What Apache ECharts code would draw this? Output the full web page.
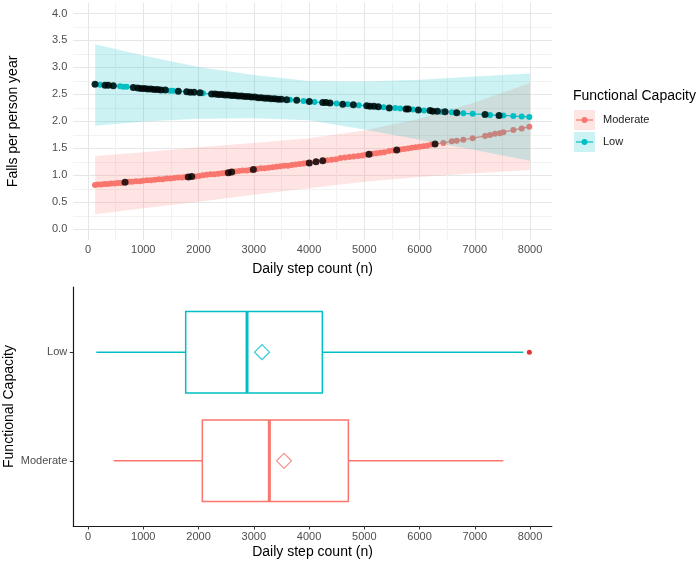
<!DOCTYPE html>
<html>
<head>
<meta charset="utf-8">
<title>Falls per person year by daily step count</title>
<script src="https://cdn.jsdelivr.net/npm/echarts@6/dist/echarts.min.js"></script>
<style>
  html, body { margin: 0; padding: 0; background: #fff; }
  #chart { width: 700px; height: 561px; }
</style>
</head>
<body>
<div id="chart"></div>
<script>
// ---- data ----
var groups = ["Moderate", "Low"];

// axis ticks
var xTicks = [0, 1000, 2000, 3000, 4000, 5000, 6000, 7000, 8000];
var xMinor = [500, 1500, 2500, 3500, 4500, 5500, 6500, 7500];
var yTicks = [0, 0.5, 1, 1.5, 2, 2.5, 3, 3.5, 4];
var yMinor = [0.25, 0.75, 1.25, 1.75, 2.25, 2.75, 3.25, 3.75];

// fitted falls per person year, Low functional capacity (one dot per person)
var lowX = [127, 217, 308, 368, 458, 580, 640, 700, 820, 900, 960, 1020, 1080, 1140, 1200, 1260, 1320, 1400, 1484, 1540,
  1634, 1786, 1850, 1920, 2027, 2080, 2237, 2300, 2360, 2420, 2480, 2540, 2600, 2660, 2720, 2780, 2840, 2900, 2960, 3020,
  3080, 3140, 3200, 3260, 3320, 3380, 3440, 3500, 3595, 3656, 3777, 3900, 4005, 4100, 4248, 4308, 4380, 4500, 4610, 4700,
  4802, 4900, 5044, 5104, 5177, 5254, 5350, 5453, 5560, 5650, 5756, 5797, 5880, 5978, 6080, 6190, 6239, 6322, 6400, 6462,
  6583, 6673, 6793, 6962, 7186, 7276, 7439, 7517, 7698, 7849, 7987];
var lowY = [2.69, 2.68, 2.67, 2.67, 2.66, 2.65, 2.64, 2.64, 2.63, 2.62, 2.61, 2.61, 2.60, 2.60, 2.59, 2.59, 2.58, 2.58, 2.57, 2.57,
  2.56, 2.55, 2.54, 2.54, 2.53, 2.52, 2.51, 2.51, 2.50, 2.50, 2.49, 2.49, 2.48, 2.48, 2.47, 2.47, 2.46, 2.46, 2.45, 2.45,
  2.44, 2.44, 2.43, 2.43, 2.42, 2.42, 2.41, 2.41, 2.40, 2.40, 2.39, 2.38, 2.37, 2.36, 2.35, 2.35, 2.34, 2.33, 2.32, 2.32,
  2.31, 2.30, 2.29, 2.28, 2.28, 2.27, 2.26, 2.25, 2.25, 2.24, 2.23, 2.23, 2.22, 2.21, 2.20, 2.20, 2.19, 2.19, 2.18, 2.18,
  2.17, 2.16, 2.15, 2.14, 2.13, 2.12, 2.11, 2.11, 2.10, 2.09, 2.08];

// black dots on the Low line
var lowBlackX = [127, 308, 368, 458, 820, 900, 960, 1020, 1080, 1140, 1200, 1260, 1320, 1400, 1634, 1786, 1850, 1920, 2027, 2237,
  2300, 2360, 2420, 2480, 2540, 2600, 2660, 2720, 2780, 2840, 2900, 2960, 3020, 3080, 3140, 3200, 3260, 3320, 3380, 3440,
  3500, 3595, 3777, 4005, 4248, 4308, 4380, 4610, 4802, 5044, 5104, 5177, 5254, 5453, 5756, 5797, 5978, 6190, 6239, 6322,
  6462, 6673, 7186, 7439];
var lowBlackY = [2.69, 2.67, 2.67, 2.66, 2.63, 2.62, 2.61, 2.61, 2.60, 2.60, 2.59, 2.59, 2.58, 2.58, 2.56, 2.55, 2.54, 2.54, 2.53, 2.51,
  2.51, 2.50, 2.50, 2.49, 2.49, 2.48, 2.48, 2.47, 2.47, 2.46, 2.46, 2.45, 2.45, 2.44, 2.44, 2.43, 2.43, 2.42, 2.42, 2.41,
  2.41, 2.40, 2.39, 2.37, 2.35, 2.35, 2.34, 2.32, 2.31, 2.29, 2.28, 2.28, 2.27, 2.25, 2.23, 2.23, 2.21, 2.20, 2.19, 2.19,
  2.18, 2.16, 2.13, 2.11];

// fitted falls per person year, Moderate functional capacity
var modX = [127, 180, 240, 300, 360, 420, 480, 540, 600, 670, 740, 800, 870, 940, 1000, 1070, 1140, 1210, 1280, 1350,
  1420, 1490, 1560, 1630, 1700, 1760, 1815, 1877, 1940, 2010, 2080, 2150, 2220, 2290, 2360, 2430, 2490, 2540, 2600, 2660,
  2730, 2800, 2870, 2930, 2993, 3060, 3130, 3200, 3270, 3340, 3410, 3480, 3550, 3620, 3690, 3760, 3830, 3900, 3960, 4005,
  4127, 4248, 4330, 4410, 4490, 4570, 4650, 4730, 4810, 4890, 4960, 5020, 5086, 5150, 5220, 5290, 5360, 5448, 5520, 5587,
  5650, 5720, 5790, 5860, 5930, 6000, 6070, 6140, 6210, 6281, 6431, 6583, 6673, 6793, 6962, 7186, 7276, 7367, 7457, 7517,
  7698, 7849, 7987];
var modY = [0.82, 0.83, 0.83, 0.84, 0.84, 0.85, 0.85, 0.86, 0.86, 0.87, 0.88, 0.88, 0.89, 0.89, 0.90, 0.91, 0.91, 0.92, 0.93, 0.93,
  0.94, 0.94, 0.95, 0.96, 0.96, 0.97, 0.97, 0.98, 0.98, 0.99, 1.00, 1.01, 1.02, 1.02, 1.03, 1.04, 1.05, 1.05, 1.06, 1.07,
  1.08, 1.09, 1.09, 1.10, 1.11, 1.12, 1.13, 1.13, 1.14, 1.15, 1.16, 1.17, 1.18, 1.18, 1.19, 1.20, 1.21, 1.22, 1.23, 1.23,
  1.25, 1.27, 1.28, 1.29, 1.30, 1.32, 1.33, 1.34, 1.35, 1.36, 1.37, 1.38, 1.39, 1.40, 1.41, 1.42, 1.43, 1.45, 1.46, 1.47,
  1.48, 1.49, 1.50, 1.51, 1.52, 1.53, 1.54, 1.55, 1.57, 1.58, 1.60, 1.63, 1.64, 1.66, 1.69, 1.73, 1.75, 1.77, 1.78, 1.80,
  1.84, 1.87, 1.90];

// black dots on the Moderate line
var modBlackX = [670, 1815, 1877, 2540, 2600, 2993, 4005, 4127, 4248, 5086, 5587, 6281];
var modBlackY = [0.87, 0.97, 0.98, 1.05, 1.06, 1.11, 1.23, 1.25, 1.27, 1.39, 1.47, 1.58];

// confidence bands
var bandX = [130, 1000, 2000, 3000, 4000, 5000, 6000, 7000, 8000];
var lowLo = [1.92, 2.00, 2.05, 2.06, 2.02, 1.85, 1.66, 1.47, 1.27];
var lowHi = [3.43, 3.22, 3.01, 2.86, 2.75, 2.74, 2.77, 2.83, 2.89];
var modLo = [0.28, 0.39, 0.51, 0.64, 0.76, 0.88, 0.97, 1.04, 1.10];
var modHi = [1.36, 1.43, 1.52, 1.60, 1.69, 1.83, 2.05, 2.35, 2.71];

// boxplots: [min whisker, Q1, median, Q3, max whisker]
var boxMod = [465, 2069, 3282, 4712, 7517];
var boxLow = [150, 1768, 2878, 4241, 7880];
var meanSteps = [3548, 3149]; // Moderate, Low
var lowOutliers = [7988];

// ---- chart ----
var colors = { Moderate: "#F8766D", Low: "#00BFC4" };
var font = "Liberation Sans, Arial, sans-serif";
var xMin = -267, xMax = 8394;

function zip(a, b) {
  return a.map(function (v, i) { return [v, b[i]]; });
}

function ribbon(xs, lo, hi, color, z) {
  return {
    type: "custom", xAxisIndex: 0, yAxisIndex: 0, z: z, silent: true,
    data: xs.map(function (x, i) { return [x, lo[i], hi[i]]; }),
    encode: { x: 0, y: [1, 2] },
    renderItem: function (params, api) {
      if (params.dataIndex !== 0) return null;
      var pts = [];
      for (var i = 0; i < xs.length; i++) pts.push(api.coord([xs[i], hi[i]]));
      for (var j = xs.length - 1; j >= 0; j--) pts.push(api.coord([xs[j], lo[j]]));
      return { type: "polygon", shape: { points: pts }, style: { fill: color, opacity: 0.2 } };
    }
  };
}

function fitLine(xs, ys, color, z) {
  return {
    type: "line", xAxisIndex: 0, yAxisIndex: 0, z: z, silent: true,
    data: zip(xs, ys),
    symbol: "circle", symbolSize: 6, showAllSymbol: true,
    lineStyle: { color: color, width: 1.2 },
    itemStyle: { color: color }
  };
}

function blackDots(xs, ys) {
  return {
    type: "scatter", xAxisIndex: 0, yAxisIndex: 0, z: 6, silent: true,
    data: zip(xs, ys), symbol: "circle", symbolSize: 7,
    itemStyle: { color: "#000" }
  };
}

function box(pos, b, color) {
  return {
    type: "custom", xAxisIndex: 2, yAxisIndex: 2, silent: true,
    data: [[pos].concat(b)],
    encode: { y: 0, x: [1, 2, 3, 4, 5] },
    renderItem: function (params, api) {
      var y = api.value(0);
      var h = api.size([0, 0.75])[1];
      var p0 = api.coord([api.value(1), y]);
      var p1 = api.coord([api.value(2), y]);
      var p2 = api.coord([api.value(3), y]);
      var p3 = api.coord([api.value(4), y]);
      var p4 = api.coord([api.value(5), y]);
      var ln = { stroke: color, lineWidth: 1.5 };
      return {
        type: "group",
        children: [
          { type: "line", shape: { x1: p0[0], y1: p0[1], x2: p1[0], y2: p1[1] }, style: ln },
          { type: "line", shape: { x1: p3[0], y1: p3[1], x2: p4[0], y2: p4[1] }, style: ln },
          { type: "rect", shape: { x: p1[0], y: p1[1] - h / 2, width: p3[0] - p1[0], height: h },
            style: { fill: "#fff", stroke: color, lineWidth: 1.5 } },
          { type: "line", shape: { x1: p2[0], y1: p2[1] - h / 2, x2: p2[0], y2: p2[1] + h / 2 },
            style: { stroke: color, lineWidth: 3 } }
        ]
      };
    }
  };
}

// legend key (ggplot style: filled square + line + dot)
function legendKey(y, name) {
  var c = colors[name];
  return [
    { type: "rect", shape: { x: 574, y: y - 10, width: 21, height: 20 }, style: { fill: c, opacity: 0.2 } },
    { type: "line", shape: { x1: 576, y1: y, x2: 593, y2: y }, style: { stroke: c, lineWidth: 1.2 } },
    { type: "circle", shape: { cx: 584.5, cy: y, r: 3 }, style: { fill: c } },
    { type: "text", x: 603, y: y, style: { text: name, font: "11px " + font, fill: "#1a1a1a", verticalAlign: "middle" } }
  ];
}

var plain = function (v) { return String(v); };
var tickLabel = { color: "#4d4d4d", fontSize: 11, fontFamily: font };
var axisName = { color: "#000", fontSize: 14, fontFamily: font };
var major = { show: true, lineStyle: { color: "#e6e6e6", width: 1 } };
var minor = { show: true, lineStyle: { color: "#f2f2f2", width: 1 } };

var myChart = echarts.init(document.getElementById("chart"));
var option = {
  animation: false,
  textStyle: { fontFamily: font },
  grid: [
    { left: 73.25, right: 148.2, top: 2.7, height: 237.4, containLabel: false, outerBoundsMode: "none" },
    { left: 73.25, right: 148.2, top: 287, height: 239, containLabel: false, outerBoundsMode: "none" }
  ],
  xAxis: [
    {
      type: "value", gridIndex: 0, min: xMin, max: xMax,
      axisLine: { show: false, onZero: false }, axisTick: { show: false, customValues: xTicks },
      axisLabel: Object.assign({ customValues: xTicks, margin: 4, formatter: plain }, tickLabel),
      splitLine: major,
      name: "Daily step count (n)", nameLocation: "middle", nameGap: 22, nameTextStyle: axisName
    },
    {
      type: "value", gridIndex: 0, position: "top", min: xMin, max: xMax,
      axisLine: { show: false, onZero: false }, axisTick: { show: false, customValues: xMinor },
      axisLabel: { show: false }, splitLine: minor
    },
    {
      type: "value", gridIndex: 1, min: xMin, max: xMax,
      axisLine: { show: true, onZero: false, lineStyle: { color: "#1a1a1a", width: 1.2 } },
      axisTick: { show: true, customValues: xTicks, length: 3.5, lineStyle: { color: "#333" } },
      axisLabel: Object.assign({ customValues: xTicks, margin: 5, formatter: plain }, tickLabel),
      splitLine: { show: false },
      name: "Daily step count (n)", nameLocation: "middle", nameGap: 19, nameTextStyle: axisName
    }
  ],
  yAxis: [
    {
      type: "value", gridIndex: 0, min: -0.2, max: 4.2,
      axisLine: { show: false, onZero: false }, axisTick: { show: false, customValues: yTicks },
      axisLabel: Object.assign({ customValues: yTicks, margin: 6, formatter: function (v) { return v.toFixed(1); } }, tickLabel),
      splitLine: major,
      name: "Falls per person year", nameLocation: "middle", nameRotate: 90, nameGap: 53,
      nameMoveOverlap: false, nameTextStyle: axisName
    },
    {
      type: "value", gridIndex: 0, position: "right", min: -0.2, max: 4.2,
      axisLine: { show: false, onZero: false }, axisTick: { show: false, customValues: yMinor },
      axisLabel: { show: false }, splitLine: minor
    },
    {
      type: "value", gridIndex: 1, min: 0.4, max: 2.6,
      axisLine: { show: true, onZero: false, lineStyle: { color: "#1a1a1a", width: 1.2 } },
      axisTick: { show: true, customValues: [1, 2], length: 3.5, lineStyle: { color: "#333" } },
      axisLabel: Object.assign({ customValues: [1, 2], margin: 6, formatter: function (v) { return groups[v - 1]; } }, tickLabel),
      splitLine: { show: false },
      name: "Functional Capacity", nameLocation: "middle", nameRotate: 90, nameGap: 57,
      nameMoveOverlap: false, nameTextStyle: axisName
    }
  ],
  graphic: [
    { type: "text", x: 573, y: 96, style: { text: "Functional Capacity", font: "14px " + font, fill: "#000", verticalAlign: "middle" } }
  ].concat(legendKey(120, "Moderate"), legendKey(142, "Low")),
  series: [
    ribbon(bandX, modLo, modHi, colors.Moderate, 1),
    fitLine(modX, modY, colors.Moderate, 2),
    ribbon(bandX, lowLo, lowHi, colors.Low, 3),
    fitLine(lowX, lowY, colors.Low, 4),
    blackDots(modBlackX, modBlackY),
    blackDots(lowBlackX, lowBlackY),
    box(1, boxMod, colors.Moderate),
    box(2, boxLow, colors.Low),
    {
      type: "scatter", xAxisIndex: 2, yAxisIndex: 2, z: 5, silent: true,
      symbol: "diamond", symbolSize: [15, 15],
      data: meanSteps.map(function (m, i) {
        return { value: [m, i + 1], itemStyle: { color: "rgba(0,0,0,0)", borderColor: colors[groups[i]], borderWidth: 1.2 } };
      })
    },
    {
      type: "scatter", xAxisIndex: 2, yAxisIndex: 2, z: 5, silent: true,
      symbol: "circle", symbolSize: 5,
      data: lowOutliers.map(function (v) { return [v, 2]; }),
      itemStyle: { color: "#dd0000" }
    }
  ]
};
myChart.setOption(option);
</script>
</body>
</html>
